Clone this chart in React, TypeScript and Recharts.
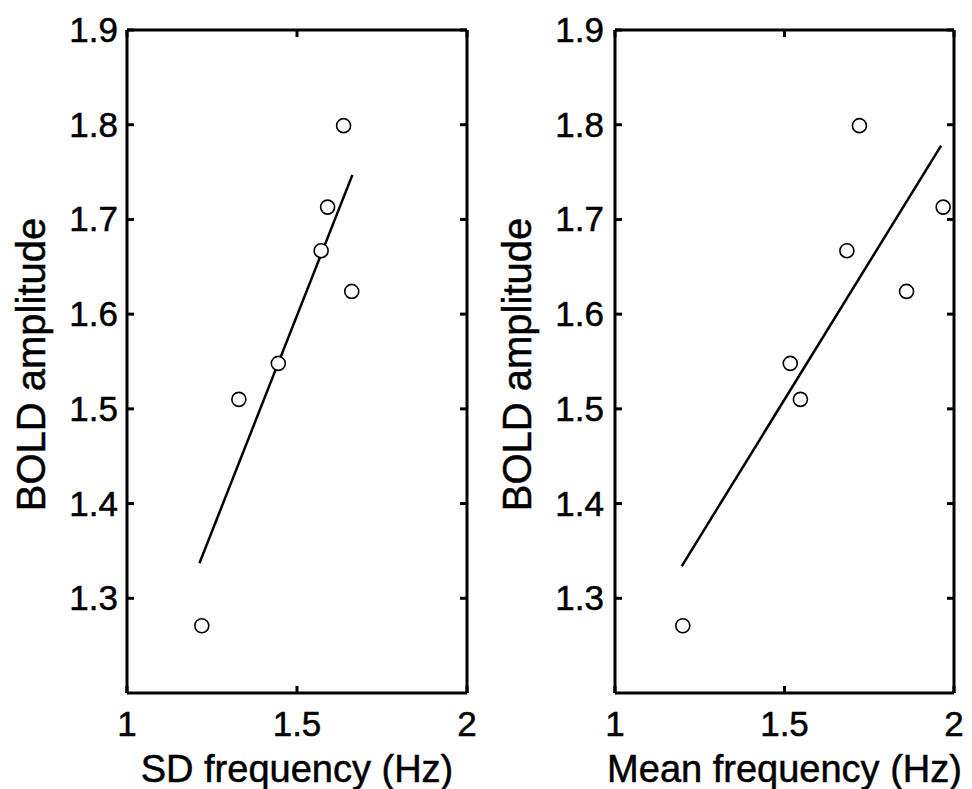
import { Label, Scatter, ScatterChart, XAxis, YAxis } from 'recharts'

// BOLD amplitude per subject (same subjects in both panels)
const boldAmplitude = [1.799, 1.713, 1.667, 1.624, 1.548, 1.51, 1.271]
const sdFrequency = [1.637, 1.59, 1.571, 1.661, 1.445, 1.329, 1.22]
const meanFrequency = [1.721, 1.968, 1.684, 1.86, 1.517, 1.547, 1.2]

// least-squares fit end points
const sdFitX = [1.213, 1.663]
const sdFitY = [1.337, 1.747]
const meanFitX = [1.197, 1.962]
const meanFitY = [1.334, 1.778]

const xTicks = [1, 1.5, 2]
const yTicks = [1.3, 1.4, 1.5, 1.6, 1.7, 1.8, 1.9]

const FONT = '"Liberation Sans", Arial, Helvetica, sans-serif'
const TICK_LEN = 7

const toPoints = (xs: number[], ys: number[]) => xs.map((x, i) => ({ x, y: ys[i] }))

const Ring = (props: any) => (
  <circle cx={props.cx} cy={props.cy} r={7} fill="#fff" stroke="#000" strokeWidth={1.6} />
)

const Nothing = () => <g />

const textStyle = { fontFamily: FONT, fill: '#000', stroke: '#000', strokeWidth: 0.5 }

// inward tick marks, MATLAB style; labels only on bottom / left
function BottomTick({ x, y, payload }: any) {
  return (
    <g>
      <line x1={x} x2={x} y1={y} y2={y - TICK_LEN} stroke="#000" strokeWidth={3} />
      <text x={x} y={y + 43} textAnchor="middle" fontSize={35} {...textStyle}>
        {payload.value}
      </text>
    </g>
  )
}

function TopTick({ x, y }: any) {
  return <line x1={x} x2={x} y1={y} y2={y + TICK_LEN} stroke="#000" strokeWidth={3} />
}

function LeftTick({ x, y, payload, gap }: any) {
  return (
    <g>
      <line x1={x} x2={x + TICK_LEN} y1={y} y2={y} stroke="#000" strokeWidth={3} />
      <text x={x - gap} y={y + 12} textAnchor="end" fontSize={35} {...textStyle}>
        {payload.value.toFixed(1)}
      </text>
    </g>
  )
}

function RightTick({ x, y }: any) {
  return <line x1={x} x2={x - TICK_LEN} y1={y} y2={y} stroke="#000" strokeWidth={3} />
}

function YTitle({ viewBox }: any) {
  const cx = 45
  const cy = viewBox.y + viewBox.height / 2 + 3
  return (
    <text
      x={cx}
      y={cy}
      transform={`rotate(-90, ${cx}, ${cy})`}
      textAnchor="middle"
      fontSize={40}
      {...textStyle}
    >
      BOLD amplitude
    </text>
  )
}

function Panel({
  xs,
  fitX,
  fitY,
  xLabel,
  left,
  right,
  labelGap,
}: {
  xs: number[]
  fitX: number[]
  fitY: number[]
  xLabel: string
  left: number
  right: number
  labelGap: number
}) {
  const points = toPoints(xs, boldAmplitude)
  const fit = toPoints(fitX, fitY)
  const axisStyle = { stroke: '#000', strokeWidth: 3 }

  return (
    <ScatterChart width={486} height={789} margin={{ top: 0, right: 0, bottom: 0, left: 0 }}>
      <XAxis
        xAxisId="b"
        type="number"
        dataKey="x"
        domain={[1, 2]}
        ticks={xTicks}
        allowDataOverflow
        height={96}
        axisLine={axisStyle}
        tickLine={false}
        tickSize={0}
        tickMargin={0}
        tick={<BottomTick />}
        interval={0}
      >
        <Label
          value={xLabel}
          position="insideBottom"
          offset={7}
          style={{ fontSize: 38, ...textStyle }}
        />
      </XAxis>
      <XAxis
        xAxisId="t"
        orientation="top"
        type="number"
        dataKey="x"
        domain={[1, 2]}
        ticks={xTicks}
        allowDataOverflow
        height={30}
        axisLine={axisStyle}
        tickLine={false}
        tickSize={0}
        tickMargin={0}
        tick={<TopTick />}
        interval={0}
      />
      <YAxis
        yAxisId="l"
        type="number"
        dataKey="y"
        domain={[1.2, 1.9]}
        ticks={yTicks}
        allowDataOverflow
        width={left}
        axisLine={axisStyle}
        tickLine={false}
        tickSize={0}
        tickMargin={0}
        tick={<LeftTick gap={labelGap} />}
        interval={0}
      >
        <Label content={<YTitle />} />
      </YAxis>
      <YAxis
        yAxisId="r"
        orientation="right"
        type="number"
        dataKey="y"
        domain={[1.2, 1.9]}
        ticks={yTicks}
        allowDataOverflow
        width={right}
        axisLine={axisStyle}
        tickLine={false}
        tickSize={0}
        tickMargin={0}
        tick={<RightTick />}
        interval={0}
      />
      <Scatter
        xAxisId="b"
        yAxisId="l"
        data={fit}
        line={{ stroke: '#000', strokeWidth: 2.5 }}
        shape={Nothing}
        isAnimationActive={false}
      />
      <Scatter xAxisId="b" yAxisId="l" data={points} shape={Ring} isAnimationActive={false} />
    </ScatterChart>
  )
}

export default function App() {
  return (
    <div
      style={{
        position: 'absolute',
        left: 0,
        top: 0,
        width: 972,
        height: 789,
        background: '#fff',
        display: 'flex',
      }}
    >
      <Panel
        xs={sdFrequency}
        fitX={sdFitX}
        fitY={sdFitY}
        xLabel="SD frequency (Hz)"
        left={127}
        right={19}
        labelGap={9}
      />
      <Panel
        xs={meanFrequency}
        fitX={meanFitX}
        fitY={meanFitY}
        xLabel="Mean frequency (Hz)"
        left={129}
        right={18}
        labelGap={11}
      />
    </div>
  )
}
